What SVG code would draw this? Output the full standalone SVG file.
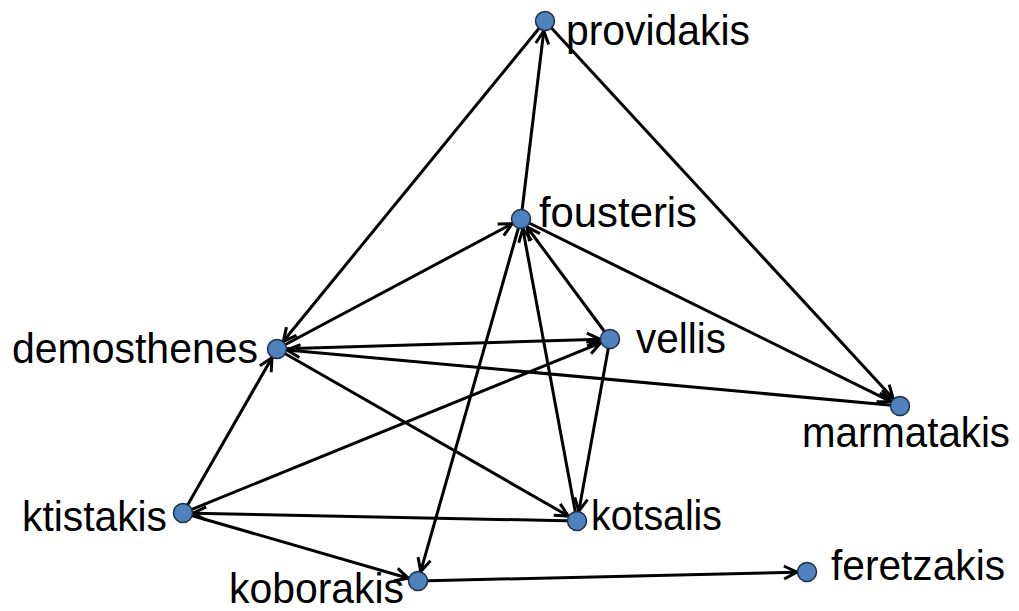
<svg xmlns="http://www.w3.org/2000/svg" width="1019" height="611" viewBox="0 0 1019 611">
  <style>
    .edge { stroke: #000; stroke-width: 3; fill: none; marker-end: url(#arrow); }
    .node circle { fill: #4F81BD; stroke: #1F2F4A; stroke-width: 1.5; }
    .node text { font-family: "Liberation Sans", Arial, sans-serif; font-size: 42px; fill: #000; }
  </style>
  <defs>
    <marker id="arrow" markerUnits="userSpaceOnUse" viewBox="0 0 16 16" markerWidth="16" markerHeight="16" refX="14.5" refY="8" orient="auto">
      <path d="M1.5,1.5 L14.5,8 L1.5,14.5" fill="none" stroke="#000" stroke-width="3" stroke-linejoin="miter"/>
    </marker>
  </defs>
  <rect width="1019" height="611" fill="#fff"/>

  <g id="connectors">
    <line class="edge" x1="521" y1="219" x2="543.8" y2="30.9"/>
    <line class="edge" x1="545" y1="21" x2="283.3" y2="341.3"/>
    <line class="edge" x1="545" y1="21" x2="893.2" y2="398.6"/>
    <line class="edge" x1="277" y1="349" x2="512.2" y2="223.7"/>
    <line class="edge" x1="277" y1="349" x2="600" y2="339.3"/>
    <line class="edge" x1="900" y1="406" x2="287" y2="349.9"/>
    <line class="edge" x1="277" y1="349" x2="568.3" y2="516"/>
    <line class="edge" x1="521" y1="219" x2="420.7" y2="571.4"/>
    <line class="edge" x1="577" y1="521" x2="522.8" y2="228.8"/>
    <line class="edge" x1="610" y1="339" x2="527" y2="227"/>
    <line class="edge" x1="521" y1="219" x2="891" y2="401.6"/>
    <line class="edge" x1="610" y1="339" x2="578.8" y2="511.2"/>
    <line class="edge" x1="183" y1="513" x2="272" y2="357.7"/>
    <line class="edge" x1="183" y1="513" x2="600.7" y2="342.8"/>
    <line class="edge" x1="577" y1="521" x2="193" y2="513.2"/>
    <line class="edge" x1="183" y1="513" x2="408.4" y2="578.2"/>
    <line class="edge" x1="418" y1="581" x2="797" y2="572.2"/>
  </g>

  <g id="providakis" class="node">
    <circle cx="545" cy="21" r="9.5"/>
    <text x="566" y="45" textLength="184" lengthAdjust="spacingAndGlyphs">providakis</text>
  </g>
  <g id="fousteris" class="node">
    <circle cx="521" cy="219" r="9.5"/>
    <text x="539" y="227" textLength="158" lengthAdjust="spacingAndGlyphs">fousteris</text>
  </g>
  <g id="demosthenes" class="node">
    <circle cx="277" cy="349" r="9.5"/>
    <text x="12" y="363" textLength="246" lengthAdjust="spacingAndGlyphs">demosthenes</text>
  </g>
  <g id="vellis" class="node">
    <circle cx="610" cy="339" r="9.5"/>
    <text x="636" y="353" textLength="90" lengthAdjust="spacingAndGlyphs">vellis</text>
  </g>
  <g id="marmatakis" class="node">
    <circle cx="900" cy="406" r="9.5"/>
    <text x="802" y="447" textLength="208" lengthAdjust="spacingAndGlyphs">marmatakis</text>
  </g>
  <g id="ktistakis" class="node">
    <circle cx="183" cy="513" r="9.5"/>
    <text x="22" y="531" textLength="145" lengthAdjust="spacingAndGlyphs">ktistakis</text>
  </g>
  <g id="kotsalis" class="node">
    <circle cx="577" cy="521" r="9.5"/>
    <text x="591" y="530" textLength="131" lengthAdjust="spacingAndGlyphs">kotsalis</text>
  </g>
  <g id="koborakis" class="node">
    <circle cx="418" cy="581" r="9.5"/>
    <text x="229" y="603" textLength="175" lengthAdjust="spacingAndGlyphs">koborakis</text>
  </g>
  <g id="feretzakis" class="node">
    <circle cx="807" cy="572" r="9.5"/>
    <text x="831" y="580" textLength="174" lengthAdjust="spacingAndGlyphs">feretzakis</text>
  </g>
</svg>
